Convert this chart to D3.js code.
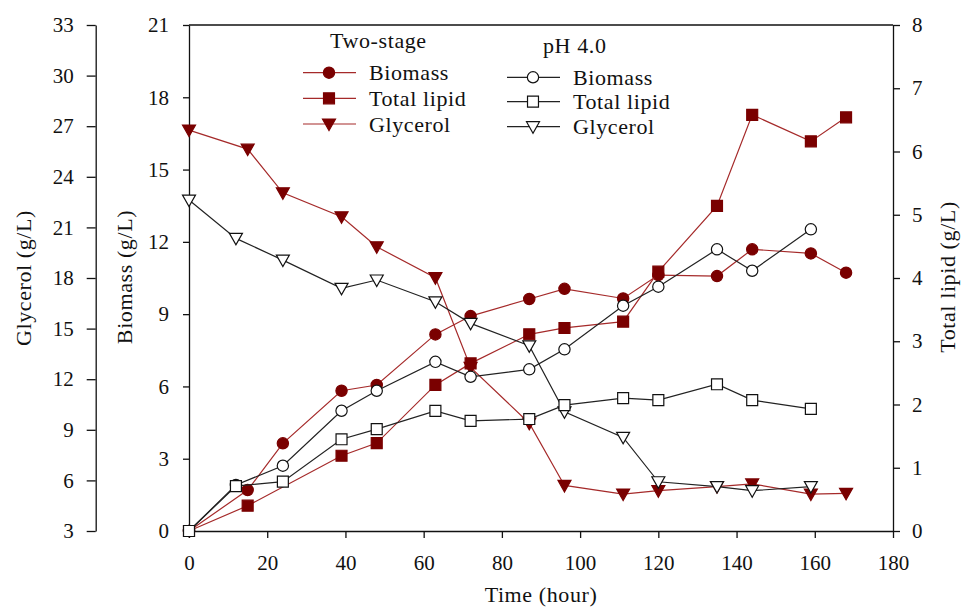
<!DOCTYPE html>
<html>
<head>
<meta charset="utf-8">
<script src="https://cdn.jsdelivr.net/npm/d3@7"></script>
<style>
  body { margin: 0; background: #fff; }
  svg text { font-family: "Liberation Serif", "Times New Roman", serif !important; }
</style>
</head>
<body>
<div id="chart"></div>
<script>
const w = 975, h = 613;

// two-stage fermentation
const tsTime = [0, 15, 24, 39, 48, 63, 72, 87, 96, 111, 120, 135, 144, 159, 168];
const tsBiomass = [0, 1.70, 3.64, 5.82, 6.06, 8.16, 8.92, 9.63, 10.05, 9.65, 10.62, 10.58, 11.69, 11.52, 10.72];
const tsGlycerol = [26.77, 25.64, 23.05, 21.63, 19.85, 18.02, 12.7, 9.39, 5.70, 5.19, 5.39, 5.63, 5.79, 5.19, 5.23];
const tsLipidTime = [0, 15, 39, 48, 63, 72, 87, 96, 111, 120, 135, 144, 159, 168];
const tsLipid = [0, 0.40, 1.19, 1.39, 2.31, 2.65, 3.11, 3.21, 3.31, 4.10, 5.14, 6.58, 6.16, 6.54];

// pH 4.0
const phTime = [0, 12, 24, 39, 48, 63, 72, 87, 96, 111, 120, 135, 144, 159];
const phBiomass = [0, 1.91, 2.71, 4.99, 5.82, 7.02, 6.40, 6.71, 7.54, 9.35, 10.14, 11.69, 10.80, 12.52];
const phLipid = [0, 0.71, 0.78, 1.45, 1.61, 1.90, 1.74, 1.77, 1.99, 2.10, 2.07, 2.32, 2.07, 1.93];
const phGlycerol = [22.62, 20.35, 19.06, 17.39, 17.88, 16.59, 15.31, 13.98, 10.07, 8.55, 5.92, 5.63, 5.39, 5.63];

const xTicks = [0, 20, 40, 60, 80, 100, 120, 140, 160, 180];
const biomassTicks = [0, 3, 6, 9, 12, 15, 18, 21];
const glycerolTicks = [3, 6, 9, 12, 15, 18, 21, 24, 27, 30, 33];
const lipidTicks = [0, 1, 2, 3, 4, 5, 6, 7, 8];

const x0 = 189, x1 = 893, yTop = 25, yBot = 531, gAxisX = 95.7;
const red = '#7a0000', redLine = '#a52a2a';

const x = d3.scaleLinear().domain([0, 180]).range([x0, x1]);
const yB = d3.scaleLinear().domain([0, 21]).range([yBot, yTop]);
const yG = d3.scaleLinear().domain([3, 33]).range([yBot, yTop]);
const yL = d3.scaleLinear().domain([0, 8]).range([yBot, yTop]);

const svg = d3.select('#chart').append('svg').attr('width', w).attr('height', h);

/* Axes */
function styleAxis(g) {
  g.attr('font-family', null);
  g.selectAll('path, line').attr('stroke', '#111').attr('stroke-width', 1.3);
  g.selectAll('text').attr('font-size', 21).attr('fill', '#111');
}
svg.append('g').attr('transform', `translate(0,${yBot})`)
  .call(d3.axisBottom(x).tickValues(xTicks).tickSize(7).tickPadding(17).tickSizeOuter(0))
  .call(styleAxis);
svg.append('g').attr('transform', `translate(${x0},0)`)
  .call(d3.axisLeft(yB).tickValues(biomassTicks).tickSize(6).tickPadding(14).tickSizeOuter(0))
  .call(styleAxis);
svg.append('g').attr('transform', `translate(${gAxisX},0)`)
  .call(d3.axisLeft(yG).tickValues(glycerolTicks).tickSize(9).tickPadding(13).tickSizeOuter(0))
  .call(styleAxis);
svg.append('g').attr('transform', `translate(${x1},0)`)
  .call(d3.axisRight(yL).tickValues(lipidTicks).tickSize(7).tickPadding(12).tickSizeOuter(0))
  .call(styleAxis);
svg.append('line').attr('x1', x0).attr('x2', x1).attr('y1', yTop).attr('y2', yTop)
  .attr('stroke', '#111').attr('stroke-width', 1.3);

/* Axis titles */
const title = (txt, tx, ty, rot) => svg.append('text').text(txt)
  .attr('transform', `translate(${tx},${ty}) rotate(${rot})`)
  .attr('text-anchor', 'middle').attr('font-size', 22).attr('letter-spacing', 0.6)
  .attr('fill', '#111');
title('Glycerol (g/L)', 31, 278, -90);
title('Biomass (g/L)', 132, 277, -90);
title('Total lipid (g/L)', 955, 277, -90);
title('Time (hour)', 541, 602, 0);

/* Markers */
const shapes = {
  circle: d3.symbol(d3.symbolCircle, 100)(),
  square: d3.symbol(d3.symbolSquare, 120)(),
  tri: 'M-6.5,-5 L6.5,-5 L0,6.5 Z'
};

function series(times, vals, yScale, shape, filled) {
  const pts = times.map((t, i) => [x(t), yScale(vals[i])]);
  svg.append('path').attr('d', d3.line()(pts)).attr('fill', 'none')
    .attr('stroke', filled ? redLine : '#222').attr('stroke-width', 1.2);
  svg.append('g').selectAll('path').data(pts).enter().append('path')
    .attr('d', shapes[shape])
    .attr('transform', d => `translate(${d[0]},${d[1]})`)
    .attr('fill', filled ? red : '#fff')
    .attr('stroke', filled ? red : '#111').attr('stroke-width', 1.2);
}

series(tsTime, tsGlycerol, yG, 'tri', true);
series(tsTime, tsBiomass, yB, 'circle', true);
series(tsLipidTime, tsLipid, yL, 'square', true);
series(phTime, phGlycerol, yG, 'tri', false);
series(phTime, phBiomass, yB, 'circle', false);
series(phTime, phLipid, yL, 'square', false);

/* Legend */
const legendNames = ['Biomass', 'Total lipid', 'Glycerol'];
const legendShapes = ['circle', 'square', 'tri'];
function legend(head, hx, hy, lx, rows, filled) {
  svg.append('text').text(head).attr('x', hx).attr('y', hy)
    .attr('font-size', 22).attr('letter-spacing', 0.6).attr('fill', '#111');
  rows.forEach((ry, i) => {
    svg.append('line').attr('x1', lx).attr('x2', lx + 53).attr('y1', ry).attr('y2', ry)
      .attr('stroke', filled ? redLine : '#222').attr('stroke-width', 1.2);
    svg.append('path').attr('d', shapes[legendShapes[i]])
      .attr('transform', `translate(${lx + 26},${ry})`)
      .attr('fill', filled ? red : '#fff').attr('stroke', filled ? red : '#111').attr('stroke-width', 1.2);
    svg.append('text').text(legendNames[i]).attr('x', lx + 66).attr('y', ry + 7.5)
      .attr('font-size', 22).attr('letter-spacing', 0.6).attr('fill', '#111');
  });
}
legend('Two-stage', 330, 48, 303, [72.7, 98.3, 124], true);
legend('pH 4.0', 543, 53, 507, [77.3, 101.7, 126.7], false);
</script>
</body>
</html>
